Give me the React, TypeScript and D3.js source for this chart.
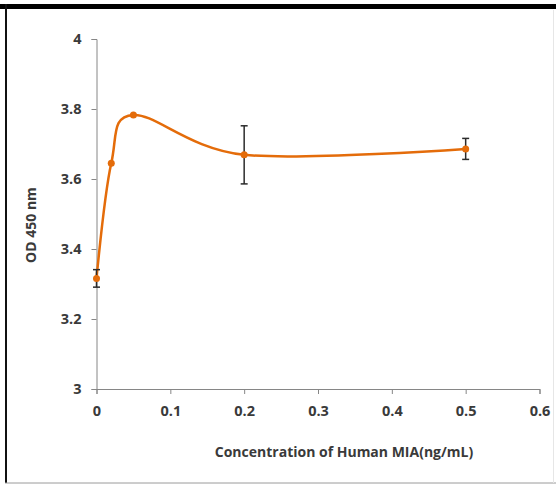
import { useEffect, useRef } from "react"
import * as d3 from "d3"

// concentration of human MIA (ng/mL)
const concentrations = [0, 0.02, 0.05, 0.2, 0.5]
// OD 450 nm readings
const odValues = [3.316, 3.645, 3.783, 3.669, 3.686]
// standard deviation, per point
const odErrors = [0.025, 0, 0, 0.083, 0.03]

const xTicks = [0, 0.1, 0.2, 0.3, 0.4, 0.5, 0.6]
const yTicks = [3, 3.2, 3.4, 3.6, 3.8, 4]

const xTitle = "Concentration of Human MIA(ng/mL)"
const yTitle = "OD 450 nm"

export default function App() {
  const svgRef = useRef<SVGSVGElement>(null)

  useEffect(() => {
    if (!svgRef.current) return
    document.body.style.margin = "0"

    const svg = d3.select(svgRef.current)
    svg.selectAll("*").remove()

    const width = 556
    const height = 484
    const font = "'Open Sans', 'Noto Sans', sans-serif"
    const axisColor = "#868686"
    const textColor = "#3a3a3a"
    const lineColor = "#e46c0a"

    svg.attr("width", width).attr("height", height)

    svg.append("rect").attr("width", width).attr("height", height).style("fill", "#fff")

    // picture frame
    svg.append("rect").attr("x", 0).attr("y", 4).attr("width", width).attr("height", 5).style("fill", "#000")
    svg.append("rect").attr("x", 5).attr("y", 4).attr("width", 2).attr("height", 479).style("fill", "#111")
    svg.append("line")
      .attr("x1", 5).attr("x2", width).attr("y1", 483).attr("y2", 483)
      .style("stroke", "#9a9a9a").style("stroke-width", 1)
    svg.append("line")
      .attr("x1", 553.5).attr("x2", 553.5).attr("y1", 10).attr("y2", 483)
      .style("stroke", "#e6e6e6").style("stroke-width", 1)

    const x = d3.scaleLinear().domain([0, 0.6]).range([96.5, 539.5])
    const y = d3.scaleLinear().domain([3, 4]).range([389, 39])

    // axes
    const xAxis = svg.append("g").attr("transform", `translate(0, ${y(3)})`)
      .call(d3.axisBottom(x).tickValues(xTicks).tickSize(5).tickPadding(17).tickFormat(d3.format("")))
    const yAxis = svg.append("g").attr("transform", `translate(${x(0)}, 0)`)
      .call(d3.axisLeft(y).tickValues(yTicks).tickSize(5).tickPadding(10).tickFormat(d3.format("")))

    ;[xAxis, yAxis].forEach((ax) => {
      ax.select(".domain").style("stroke", axisColor)
      ax.selectAll(".tick line").style("stroke", axisColor)
      ax.selectAll(".tick text")
        .style("font-family", font)
        .style("font-size", "14.5px")
        .style("font-weight", "700")
        .style("fill", textColor)
    })
    xAxis.selectAll(".tick text").attr("dy", "0.32em")

    // axis titles
    svg.append("text")
      .attr("x", 344)
      .attr("y", 453)
      .attr("text-anchor", "middle")
      .attr("dominant-baseline", "middle")
      .style("font-family", font)
      .style("font-size", "14px")
      .style("font-weight", "700")
      .style("fill", textColor)
      .text(xTitle)

    svg.append("text")
      .attr("transform", "translate(32, 225) rotate(-90)")
      .attr("text-anchor", "middle")
      .attr("dominant-baseline", "middle")
      .style("font-family", font)
      .style("font-size", "14px")
      .style("font-weight", "700")
      .style("fill", textColor)
      .text(yTitle)

    const points = concentrations.map((c, i) => ({ c, v: odValues[i], e: odErrors[i] }))

    // smoothed line (Excel-like uniform Catmull-Rom)
    const line = d3.line<{ c: number; v: number }>()
      .x((d) => x(d.c))
      .y((d) => y(d.v))
      .curve(d3.curveCatmullRom.alpha(0))

    svg.append("path")
      .datum(points)
      .attr("d", line)
      .style("fill", "none")
      .style("stroke", lineColor)
      .style("stroke-width", 2.5)

    // error bars
    points.filter((d) => d.e > 0).forEach((d) => {
      const g = svg.append("g").style("stroke", "#2b2b2b").style("stroke-width", 1.5)
      g.append("line").attr("x1", x(d.c)).attr("x2", x(d.c)).attr("y1", y(d.v - d.e)).attr("y2", y(d.v + d.e))
      g.append("line").attr("x1", x(d.c) - 3.5).attr("x2", x(d.c) + 3.5).attr("y1", y(d.v - d.e)).attr("y2", y(d.v - d.e))
      g.append("line").attr("x1", x(d.c) - 3.5).attr("x2", x(d.c) + 3.5).attr("y1", y(d.v + d.e)).attr("y2", y(d.v + d.e))
    })

    // markers
    svg.selectAll("circle.pt")
      .data(points)
      .join("circle")
      .attr("class", "pt")
      .attr("cx", (d) => x(d.c))
      .attr("cy", (d) => y(d.v))
      .attr("r", 3.5)
      .style("fill", lineColor)
  }, [])

  return <svg ref={svgRef} style={{ display: "block" }} />
}
